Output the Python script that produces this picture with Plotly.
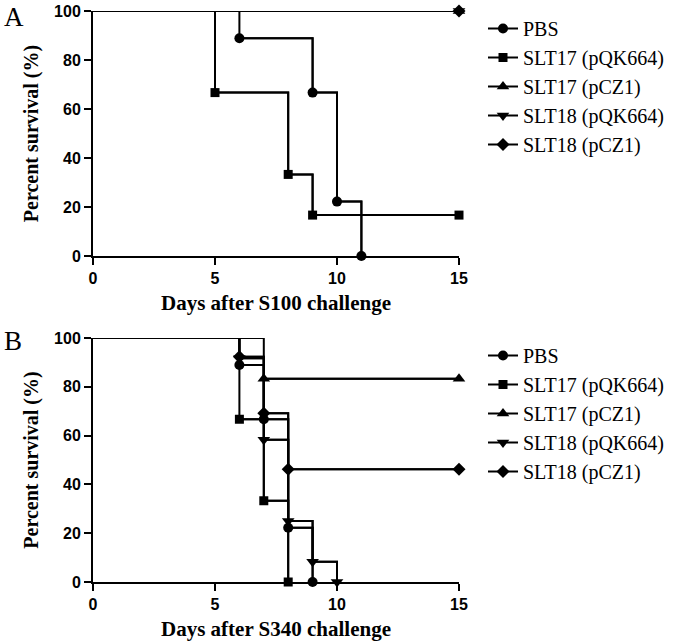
import plotly.graph_objects as go

# ---------------- data ----------------
groups = ["PBS", "SLT17 (pQK664)", "SLT17 (pCZ1)", "SLT18 (pQK664)", "SLT18 (pCZ1)"]
symbols = ["circle", "square", "triangle-up", "triangle-down", "diamond"]
marker_sizes = [10, 9, 11, 11, 10]
end_day = 15
x_ticks = [0, 5, 10, 15]
y_ticks = [0, 20, 40, 60, 80, 100]

# Panel A (S100 challenge): event days and percent survival after each event
a_pbs_days = [0, 6, 9, 10, 11]
a_pbs_surv = [100, 88.9, 66.7, 22.2, 0]
a_slt17q_days = [0, 5, 8, 9]
a_slt17q_surv = [100, 66.7, 33.3, 16.7]
a_slt17c_days = [0]
a_slt17c_surv = [100]
a_slt18q_days = [0]
a_slt18q_surv = [100]
a_slt18c_days = [0]
a_slt18c_surv = [100]

# Panel B (S340 challenge)
b_pbs_days = [0, 6, 7, 8, 9]
b_pbs_surv = [100, 88.9, 66.7, 22.2, 0]
b_slt17q_days = [0, 6, 7, 8]
b_slt17q_surv = [100, 66.7, 33.3, 0]
b_slt17c_days = [0, 7]
b_slt17c_surv = [100, 83.3]
b_slt18q_days = [0, 6, 7, 8, 9, 10]
b_slt18q_surv = [100, 91.7, 58.3, 25, 8.3, 0]
b_slt18c_days = [0, 6, 7, 8]
b_slt18c_surv = [100, 92.3, 69.2, 46.2]

panel_a = [(a_pbs_days, a_pbs_surv), (a_slt17q_days, a_slt17q_surv), (a_slt17c_days, a_slt17c_surv),
           (a_slt18q_days, a_slt18q_surv), (a_slt18c_days, a_slt18c_surv)]
panel_b = [(b_pbs_days, b_pbs_surv), (b_slt17q_days, b_slt17q_surv), (b_slt17c_days, b_slt17c_surv),
           (b_slt18q_days, b_slt18q_surv), (b_slt18c_days, b_slt18c_surv)]

# ---------------- figure ----------------
W, H = 675, 642
fig = go.Figure()

def add_panel(panel, xa, ya, legend):
    lines = []
    marks = []
    for i, (days, surv) in enumerate(panel):
        lx = list(days)
        ly = list(surv)
        mx = list(days[1:])
        my = list(surv[1:])
        if surv[-1] > 0:
            lx.append(end_day)
            ly.append(surv[-1])
            mx.append(end_day)
            my.append(surv[-1])
        lines.append(go.Scatter(x=lx, y=ly, mode="lines", line=dict(shape="hv", color="black", width=2),
                                xaxis=xa, yaxis=ya, showlegend=False, cliponaxis=False, hoverinfo="skip"))
        marks.append(go.Scatter(x=mx, y=my, mode="lines+markers", name=groups[i],
                                line=dict(shape="hv", color="black", width=2),
                                marker=dict(symbol=symbols[i], size=marker_sizes[i], color="black"),
                                xaxis=xa, yaxis=ya, legend=legend, cliponaxis=False))
    for t in lines + marks:
        fig.add_trace(t)

add_panel(panel_a, "x", "y", "legend")
add_panel(panel_b, "x2", "y2", "legend2")

xdom = [93 / W, 459 / W]
ydomA = [1 - 256 / H, 1 - 11 / H]
ydomB = [1 - 582 / H, 1 - 338 / H]

tickfont = dict(family="Liberation Sans", size=16, color="black", weight="bold")
titlefont = dict(family="Liberation Serif", size=21, color="black", weight="bold")

def xaxis(title, anchor):
    return dict(domain=xdom, range=[0, end_day], tickvals=x_ticks, ticktext=[str(v) for v in x_ticks],
                showline=True, linecolor="black", linewidth=2, ticks="outside", ticklen=7, tickwidth=2,
                tickcolor="black", showgrid=False, zeroline=False, tickfont=tickfont, anchor=anchor,
                automargin=False, title=dict(text=title, font=titlefont, standoff=9))

def yaxis(dom, anchor):
    return dict(domain=dom, range=[0, 100], tickvals=y_ticks, ticktext=[str(v) for v in y_ticks],
                showline=True, linecolor="black", linewidth=2, ticks="outside", ticklen=7, tickwidth=2,
                tickcolor="black", showgrid=False, zeroline=False, tickfont=tickfont, anchor=anchor,
                automargin=False,
                title=dict(text="Percent survival (%)", font=dict(family="Liberation Serif", size=20,
                                                                  color="black", weight="bold"), standoff=10))

legend_common = dict(font=dict(family="Liberation Serif", size=20, color="black"), bgcolor="rgba(0,0,0,0)",
                     xanchor="left", yanchor="top", tracegroupgap=0, itemwidth=30, borderwidth=0)

fig.update_layout(
    template="none",
    width=W, height=H, margin=dict(l=0, r=0, t=0, b=0, autoexpand=False),
    paper_bgcolor="white", plot_bgcolor="white",
    xaxis=xaxis("Days after S100 challenge", "y"),
    yaxis=yaxis(ydomA, "x"),
    xaxis2=xaxis("Days after S340 challenge", "y2"),
    yaxis2=yaxis(ydomB, "x2"),
    legend=dict(x=483 / W, y=1 - 9 / H, **legend_common),
    legend2=dict(x=483 / W, y=1 - 336 / H, **legend_common),
    annotations=[
        dict(text="A", x=2 / W, y=1, xref="paper", yref="paper", xanchor="left", yanchor="top",
             showarrow=False, font=dict(family="Liberation Serif", size=27, color="black")),
        dict(text="B", x=2 / W, y=1 - 324 / H, xref="paper", yref="paper", xanchor="left", yanchor="top",
             showarrow=False, font=dict(family="Liberation Serif", size=27, color="black")),
    ],
)

fig.write_html("out.html", config={"displayModeBar": False},
               post_script="document.body.style.margin='0';document.body.style.overflow='hidden';")
